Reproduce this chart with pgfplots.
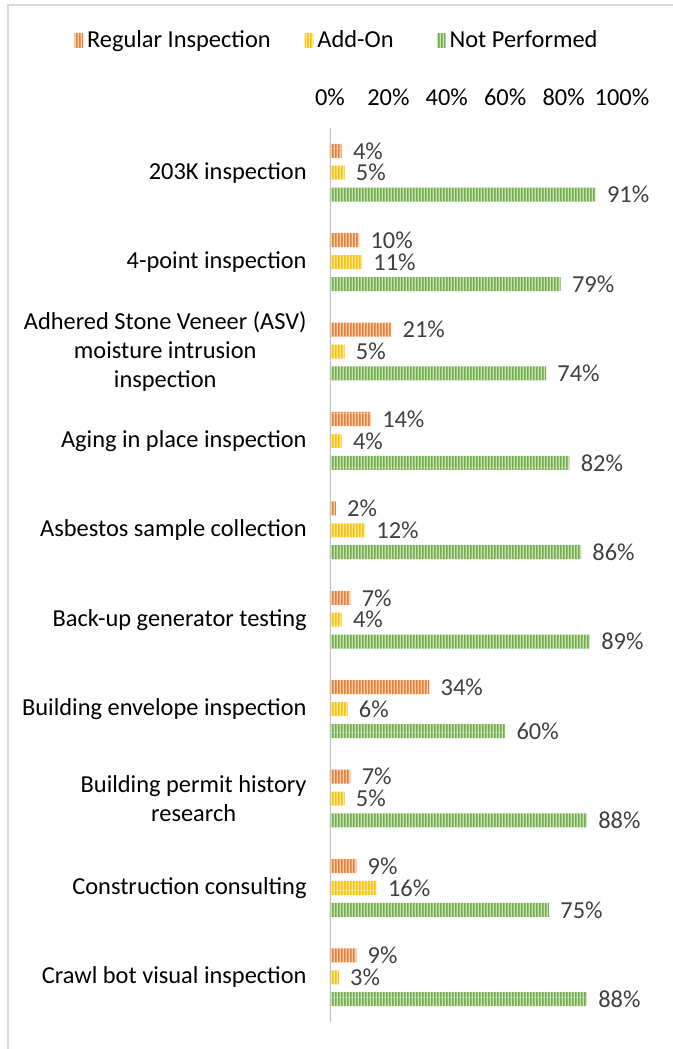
\documentclass[border=0pt]{standalone}
\usepackage{pgfplots}
\pgfplotsset{compat=1.18}
\usepackage{fontspec}
\setmainfont{Carlito}
\usetikzlibrary{patterns.meta}

\definecolor{cOrange}{HTML}{ED7D31}
\definecolor{cYellow}{HTML}{FFC000}
\definecolor{cGreen}{HTML}{70AD47}
\definecolor{labelgray}{HTML}{404040}
\definecolor{axisgray}{HTML}{BFBFBF}
\definecolor{framegray}{HTML}{D9D9D9}

% striped fills, like the Office "dark vertical" pattern
\newcommand\stripes[2]{%
  \tikzdeclarepattern{name=#1, type=colored,
    bottom left={(0pt,0pt)}, top right={(2.4pt,40pt)}, tile size={(2.4pt,40pt)},
    code={\fill[#2!35!white] (0pt,0pt) rectangle (2.4pt,40pt);
          \fill[#2] (0pt,0pt) rectangle (1.5pt,40pt);}}}
\stripes{stripeO}{cOrange}
\stripes{stripeY}{cYellow}
\stripes{stripeG}{cGreen}

\newcommand\chartfont{\fontsize{18.3}{21.75}\selectfont}

% legend swatch with room before it (#1 = gap before the swatch)
\pgfplotsset{swatch/.style={legend image code/.code={%
      \path (-#1,0pt) (8pt,0pt);
      \draw[##1,draw=none] (0pt,-5.5pt) rectangle (6.5pt,5pt);}}}

\begin{document}
\begin{tikzpicture}[x=0.75pt,y=0.75pt]
\useasboundingbox (0,0) rectangle (672,1049);
\draw[framegray, line width=1pt] (8,-10) -- (8,1044) -- (690,1044);
\begin{axis}[
    at={(247.5pt,690.75pt)}, anchor=north west,
    scale only axis, width=219pt, height=670.5pt,
    xbar, bar width=10.5pt, bar shift=0pt,
    xmin=0, xmax=100, ymin=-0.5, ymax=9.5, y dir=reverse,
    axis line style={draw=none},
    major tick length=0pt,
    xtick={0,20,...,100},
    xticklabel pos=right,
    xticklabel={\pgfmathprintnumber{\tick}\%},
    /pgf/number format/assume math mode=true,
    xticklabel style={font=\chartfont, yshift=13pt},
    ytick={0,...,9},
    yticklabels={203K inspection, 4-point inspection,
      {Adhered Stone Veneer (ASV)\\moisture intrusion\\inspection},
      Aging in place inspection, Asbestos sample collection,
      Back-up generator testing, Building envelope inspection,
      {Building permit history\\research}, Construction consulting,
      Crawl bot visual inspection},
    yticklabel style={font=\chartfont, align=center, xshift=-14pt},
    point meta=x,
    nodes near coords={\pgfmathprintnumber{\pgfplotspointmeta}\%},
    nodes near coords align={horizontal},
    every node near coord/.append style={font=\chartfont, text=labelgray,
      inner ysep=0.5pt, xshift=5pt},
    legend columns=3,
    legend style={draw=none, fill=none, font=\chartfont,
      at={(axis description cs:-0.031,1.098)}, anchor=center,
      /tikz/nodes={inner xsep=1.5pt}},
]
\addplot[draw=none, pattern=stripeO, swatch=24pt] coordinates {
  (4,-0.245) (10,0.755) (21,1.755) (14,2.755) (2,3.755)
  (7,4.755) (34,5.755) (7,6.755) (9,7.755) (9,8.755)};
\addlegendentry{Regular Inspection}
\addplot[draw=none, pattern=stripeY, swatch=24pt] coordinates {
  (5,0) (11,1) (5,2) (4,3) (12,4)
  (4,5) (6,6) (5,7) (16,8) (3,9)};
\addlegendentry{Add-On}
\addplot[draw=none, pattern=stripeG, swatch=31pt] coordinates {
  (91,0.245) (79,1.245) (74,2.245) (82,3.245) (86,4.245)
  (89,5.245) (60,6.245) (88,7.245) (75,8.245) (88,9.245)};
\addlegendentry{Not Performed}
\draw[axisgray, line width=2.2pt] (axis cs:0,-0.5) -- (axis cs:0,9.5);
\end{axis}
\end{tikzpicture}
\end{document}
